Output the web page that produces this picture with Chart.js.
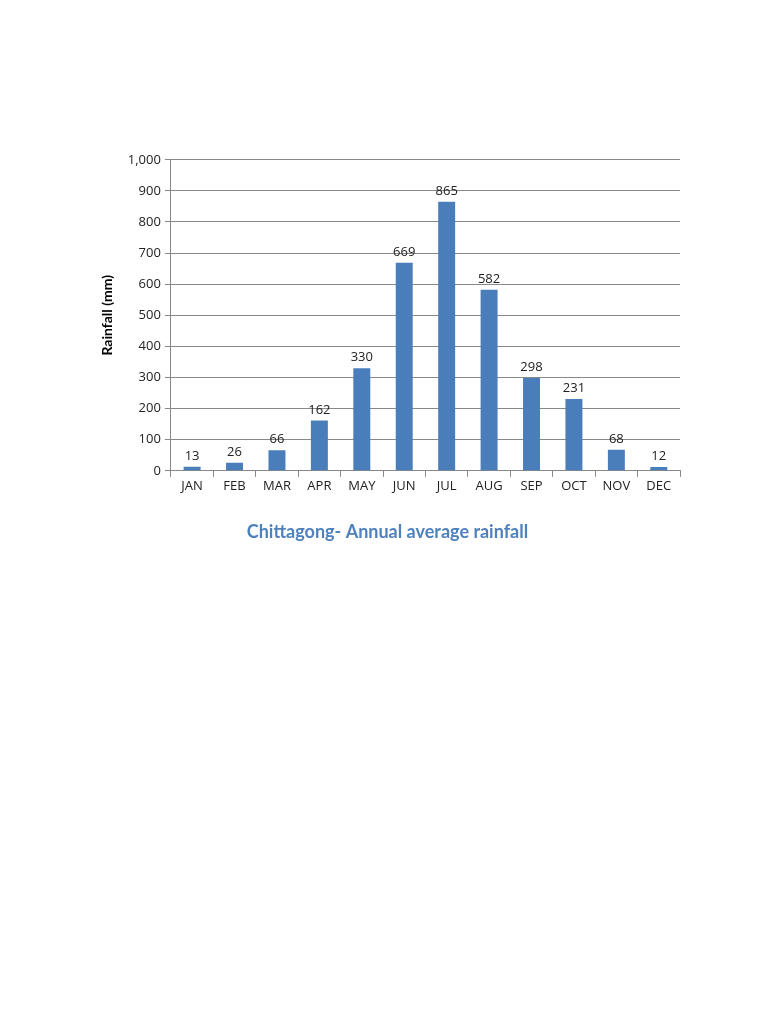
<!DOCTYPE html>
<html>
<head>
<meta charset="utf-8">
<script src="https://cdn.jsdelivr.net/npm/chart.js@4.4.1/dist/chart.umd.min.js"></script>
<style>
  body { margin: 0; background: #fff; }
  #wrap { position: absolute; left: 95px; top: 148px; width: 600px; height: 395px; }
</style>
</head>
<body>
<div id="wrap"><canvas id="c"></canvas></div>
<script>
const months = ["JAN","FEB","MAR","APR","MAY","JUN","JUL","AUG","SEP","OCT","NOV","DEC"];
const rainfall = [13, 26, 66, 162, 330, 669, 865, 582, 298, 231, 68, 12];
const yTicks = [0, 100, 200, 300, 400, 500, 600, 700, 800, 900, 1000];

// value labels above each bar
const barLabels = {
  id: 'barLabels',
  afterDatasetsDraw(chart) {
    const ctx = chart.ctx;
    ctx.save();
    ctx.font = '13px "Open Sans"';
    ctx.fillStyle = '#222';
    ctx.textAlign = 'center';
    ctx.textBaseline = 'bottom';
    chart.getDatasetMeta(0).data.forEach((bar, i) => {
      ctx.fillText(rainfall[i], bar.x, bar.y - 4);
    });
    ctx.restore();
  }
};

new Chart(document.getElementById('c'), {
  type: 'bar',
  data: {
    labels: months,
    datasets: [{
      data: rainfall,
      backgroundColor: '#4a7ebb',
      barPercentage: 0.4,
      categoryPercentage: 1
    }]
  },
  options: {
    responsive: true,
    maintainAspectRatio: false,
    animation: false,
    layout: { padding: { right: 15 } },
    plugins: {
      legend: { display: false },
      tooltip: { enabled: false },
      title: {
        display: true,
        position: 'bottom',
        text: 'Chittagong- Annual average rainfall',
        color: '#4f81bd',
        font: { family: 'Lato', size: 18, weight: 'bold' },
        padding: { top: 25, bottom: 0 }
      }
    },
    scales: {
      x: {
        grid: { offset: true, drawOnChartArea: false, tickLength: 6, color: '#888' },
        border: { color: '#888' },
        ticks: { color: '#222', font: { family: 'Open Sans', size: 13 }, padding: 2 }
      },
      y: {
        min: 0, max: 1000,
        afterBuildTicks(axis) { axis.ticks = yTicks.map(v => ({ value: v })); },
        grid: { color: '#888', tickLength: 6 },
        border: { color: '#888' },
        ticks: { color: '#222', font: { family: 'Open Sans', size: 13 }, padding: 4 },
        title: {
          display: true,
          text: 'Rainfall (mm)',
          color: '#000',
          font: { family: 'Lato', size: 14, weight: 'bold' },
          padding: { bottom: 8 }
        }
      }
    }
  },
  plugins: [barLabels]
});
</script>
</body>
</html>
